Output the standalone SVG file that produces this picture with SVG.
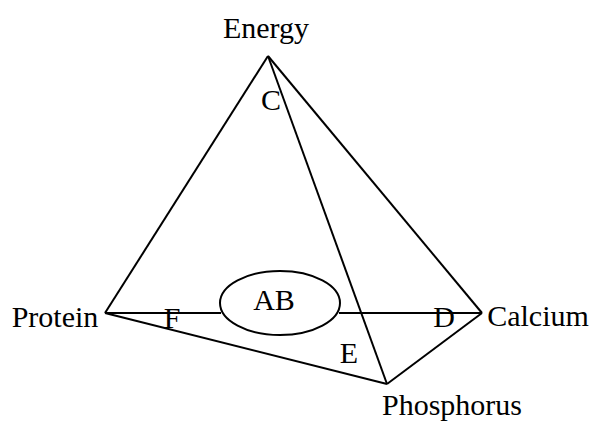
<svg xmlns="http://www.w3.org/2000/svg" width="593" height="424" viewBox="0 0 593 424">
<style>
.e{stroke:#000;stroke-width:2;fill:none;stroke-linejoin:miter}
text{font-family:"Liberation Serif","Times New Roman",serif;font-size:30px;fill:#000}
.m{text-anchor:middle}
</style>
<rect width="593" height="424" fill="#fff"/>
<g id="connectors">
<line class="e" x1="268" y1="56" x2="105" y2="313"/>
<line class="e" x1="268" y1="56" x2="482" y2="313"/>
<line class="e" x1="268" y1="56" x2="387" y2="384"/>
<line class="e" x1="105" y1="313" x2="387" y2="384"/>
<line class="e" x1="387" y1="384" x2="482" y2="313"/>
<line class="e" x1="105" y1="313" x2="221" y2="313"/>
<line class="e" x1="339" y1="313" x2="482" y2="313"/>
</g>
<g id="energy"><text class="m" x="266" y="38">Energy</text></g>
<g id="protein"><text class="m" x="55" y="327">Protein</text></g>
<g id="calcium"><text class="m" x="538" y="326">Calcium</text></g>
<g id="phosphorus"><text class="m" x="452" y="415">Phosphorus</text></g>
<g id="ab"><ellipse class="e" cx="280" cy="303" rx="60" ry="32"/><text class="m" x="274" y="310">AB</text></g>
<g id="c"><text class="m" x="271" y="110">C</text></g>
<g id="f"><text class="m" x="172" y="328">F</text></g>
<g id="d"><text class="m" x="444" y="327">D</text></g>
<g id="e"><text class="m" x="349" y="363">E</text></g>
</svg>
